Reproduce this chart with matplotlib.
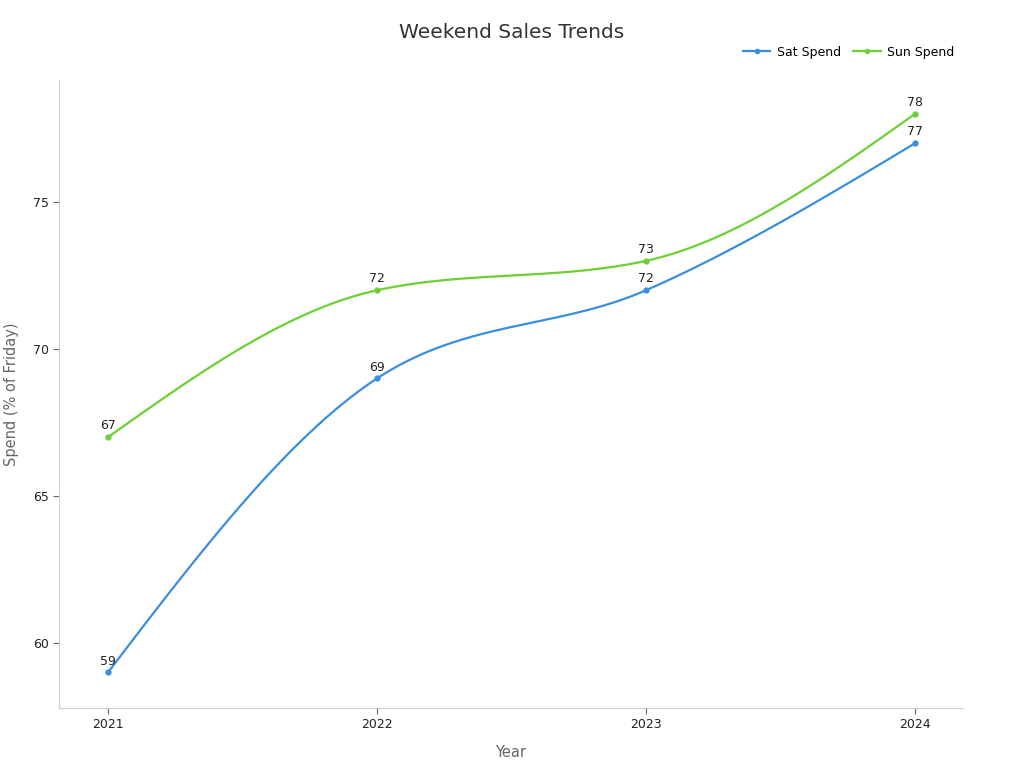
import numpy as np
import matplotlib
matplotlib.use("Agg")
import matplotlib.pyplot as plt

years = [2021, 2022, 2023, 2024]
sat_spend = [59, 69, 72, 77]
sun_spend = [67, 72, 73, 78]

sat_color = '#3a8ee0'
sun_color = '#6dd035'


def monotone_curve(x, y, n=60):
    # Fritsch-Carlson monotone cubic, like d3 curveMonotoneX
    x = np.asarray(x, float)
    y = np.asarray(y, float)
    h = np.diff(x)
    d = np.diff(y) / h
    m = np.zeros_like(y)
    for i in range(1, len(y) - 1):
        p = (d[i - 1] * h[i] + d[i] * h[i - 1]) / (h[i - 1] + h[i])
        m[i] = (np.sign(d[i - 1]) + np.sign(d[i])) * min(abs(d[i - 1]), abs(d[i]), 0.5 * abs(p))
    m[0] = (3 * d[0] - m[1]) / 2
    m[-1] = (3 * d[-1] - m[-2]) / 2
    xs, ys = [], []
    for i in range(len(x) - 1):
        t = np.linspace(0, 1, n)
        h00 = 2 * t**3 - 3 * t**2 + 1
        h10 = t**3 - 2 * t**2 + t
        h01 = -2 * t**3 + 3 * t**2
        h11 = t**3 - t**2
        xs.append(x[i] + t * h[i])
        ys.append(h00 * y[i] + h10 * h[i] * m[i] + h01 * y[i + 1] + h11 * h[i] * m[i + 1])
    return np.concatenate(xs), np.concatenate(ys)


fig = plt.figure(figsize=(10.24, 7.68), dpi=100)
ax = fig.add_axes([0.0576, 0.0781, 0.8828, 0.8177])

for vals, col, name in [(sat_spend, sat_color, 'Sat Spend'), (sun_spend, sun_color, 'Sun Spend')]:
    cx, cy = monotone_curve(years, vals)
    ax.plot(cx, cy, color=col, lw=1.6)
    ax.plot(years, vals, 'o', color=col, ms=3.5)
    ax.plot([], [], '-o', color=col, ms=3, lw=1.6, label=name)
    for xv, yv in zip(years, vals):
        ax.annotate(str(yv), (xv, yv), xytext=(0, 3.5), textcoords='offset points',
                    ha='center', va='bottom', fontsize=9, color='#222222')

ax.set_xlim(2020.818, 2024.178)
ax.set_ylim(57.79, 79.15)
ax.set_xticks(years)
ax.set_xticklabels([str(y) for y in years])
ax.set_yticks([60, 65, 70, 75])

for s in ['top', 'right']:
    ax.spines[s].set_visible(False)
for s in ['left', 'bottom']:
    ax.spines[s].set_color('#d0d0d0')
ax.tick_params(axis='both', labelsize=9, colors='#222222', length=4, color='#666666')

ax.set_xlabel('Year', fontsize=10.5, color='#666666', labelpad=10)
ax.set_ylabel('Spend (% of Friday)', fontsize=10.5, color='#666666', labelpad=10)
fig.suptitle('Weekend Sales Trends', x=0.5, y=0.97, fontsize=14.5, color='#333333')

ax.legend(loc='lower right', bbox_to_anchor=(1.0, 1.02), ncol=2, frameon=False,
          fontsize=9, handlelength=2.2, columnspacing=1.0, handletextpad=0.5, borderaxespad=0.3)

fig.savefig('out.png', dpi=100)
